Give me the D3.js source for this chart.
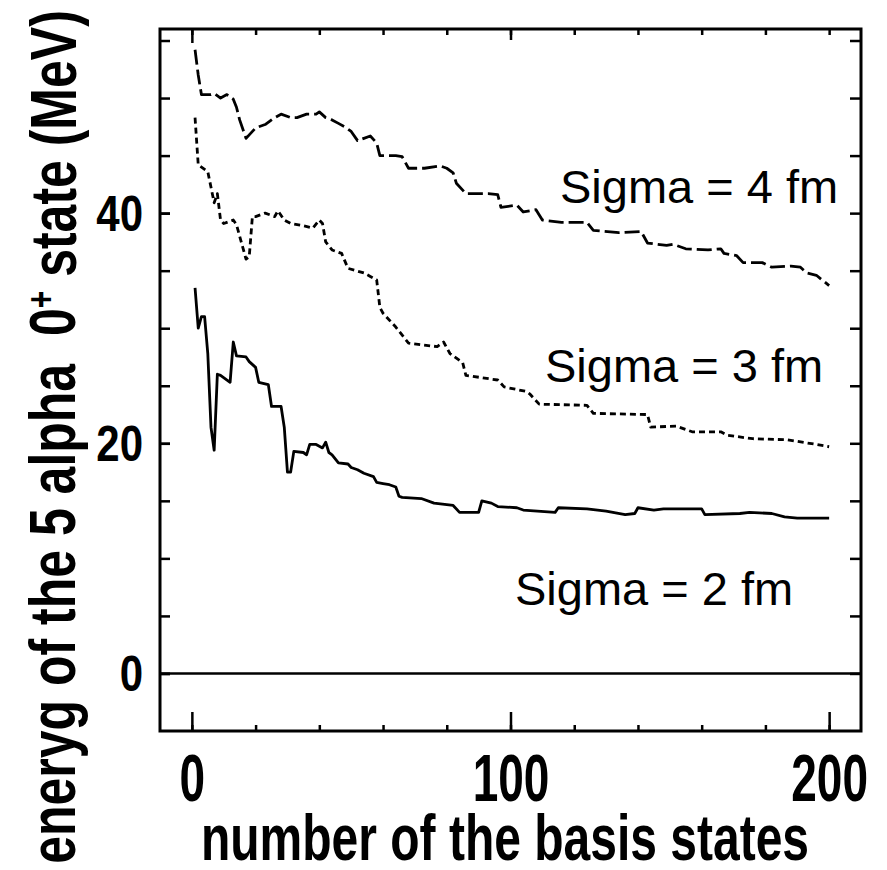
<!DOCTYPE html>
<html>
<head>
<meta charset="UTF-8">
<style>
  body { margin: 0; background: #fff; }
  svg { display: block; font-family: "Liberation Sans", Arial, sans-serif; }
</style>
</head>
<body>
<svg></svg>
<script src="https://d3js.org/d3.v7.min.js"></script>
<script>
let width = 887, height = 870;

// sigma = 2 fm (solid)
var n2 = [1,2,3,4,5,6,7,8,9,12,13,14,17,18,20,21,24,25,28,29,30,31,32,35,36,37,39,41,42,43,
          44,46,49,50,52,54,57,58,60,62,64,65,66,72,76,82,84,90,91,94,96,102,104,114,115,124,130,136,139,140,
          145,148,160,161,172,175,182,186,190,200];
var e2 = [33.5,30,31,31,27.8,21.4,19.4,26,25.9,25.3,28.8,27.6,27.5,27.1,26.6,25.3,25.1,23.2,23.2,21.4,
          17.5,17.5,19.3,19.2,19.0,19.9,19.9,19.6,20.1,19.2,19.0,18.3,18.2,17.9,17.7,17.4,17.1,16.6,16.5,16.4,
          16.2,15.4,15.3,15.2,14.8,14.6,14.0,14.0,15.0,14.8,14.5,14.4,14.2,14.0,14.4,14.3,14.1,13.8,13.9,14.4,
          14.2,14.3,14.3,13.8,13.9,14.0,13.9,13.6,13.5,13.5];

// sigma = 3 fm (dotted)
var n3 = [1,2,5,7,8,9,10,13,14,16,17,18,19,20,23,26,27,29,31,35,38,40,41,42,44,47,49,54,56,58,
          59,60,64,68,77,79,81,85,86,96,98,105,106,109,124,126,143,144,152,157,166,168,176,187,196,200];
var e3 = [48.3,44.2,43.6,40.9,41.7,39.4,39.1,39.4,39,37,36,36.2,39.7,39.7,40,39.7,40.2,39.4,39.1,38.9,
          38.7,39.4,39.1,37.5,36.8,36.5,35.2,34.8,34.5,34.2,31.8,31.3,30.1,28.7,28.4,28.8,27.8,27.0,25.9,25.5,
          24.9,24.5,24.3,23.4,23.3,22.6,22.5,21.4,21.5,21.0,21.0,20.7,20.4,20.3,19.9,19.7];

// sigma = 4 fm (dashed)
var n4 = [1,2,3,6,7,9,11,13,14,15,17,18,20,23,26,28,31,33,36,39,40,42,44,46,48,50,52,54,56,58,
          59,64,66,68,73,78,80,82,83,86,93,96,97,102,104,108,110,116,124,126,134,141,143,149,151,155,162,166,167,171,
          173,179,182,188,191,193,196,200];
var e4 = [54.2,52,50.3,50.3,50.4,50,50.3,49.9,49.2,48.1,46.5,46.8,47.4,47.7,48.3,48.6,48.3,48.3,48.6,48.6,
          48.8,48.3,48.1,47.8,47.5,47.1,46.3,46.5,46.7,46.1,45.0,45.0,44.9,43.9,43.9,44.1,43.9,43.5,42.6,41.7,
          41.7,41.6,40.5,40.7,40.1,40.3,39.4,39.2,39.2,38.5,38.3,38.4,37.4,37.2,37.3,36.9,36.8,36.9,36.5,36.3,
          35.7,35.7,35.3,35.4,35.3,34.8,34.6,33.7];

var labels = ["Sigma = 2 fm", "Sigma = 3 fm", "Sigma = 4 fm"];
var xTicksMajor = [0, 100, 200];
var yTicksMajor = [0, 20, 40];

let svg = d3.select("svg")
    .attr("width", width)
    .attr("height", height);

let pLeft = 160, pRight = 861, pTop = 29, pBottom = 731;

var x = d3.scaleLinear().domain([-10, 210]).range([pLeft, pRight]);
var y = d3.scaleLinear().domain([-5, 56]).range([pBottom, pTop]);

// minor ticks, all four sides
svg.append("g").attr("transform", "translate(0," + pBottom + ")")
    .call(d3.axisBottom(x).tickValues(d3.range(0, 201, 20)).tickSize(-6).tickFormat(""));
svg.append("g").attr("transform", "translate(0," + pTop + ")")
    .call(d3.axisTop(x).tickValues(d3.range(0, 201, 20)).tickSize(-6).tickFormat(""));
svg.append("g").attr("transform", "translate(" + pLeft + ",0)")
    .call(d3.axisLeft(y).tickValues(d3.range(0, 56, 5)).tickSize(-10).tickFormat(""));
svg.append("g").attr("transform", "translate(" + pRight + ",0)")
    .call(d3.axisRight(y).tickValues(d3.range(0, 56, 5)).tickSize(-11).tickFormat(""));

// major ticks with labels
var xAx = svg.append("g").attr("transform", "translate(0," + pBottom + ")")
    .call(d3.axisBottom(x).tickValues(xTicksMajor).tickSize(-19));
xAx.selectAll("text")
    .attr("y", null).attr("dy", null)
    .attr("transform", "translate(0,70) scale(1,1.45)")
    .attr("fill", "#000")
    .style("font-size", "46px").style("font-weight", "bold");

svg.append("g").attr("transform", "translate(0," + pTop + ")")
    .call(d3.axisTop(x).tickValues([0]).tickSize(-14).tickFormat(""));
svg.append("g").attr("transform", "translate(0," + pTop + ")")
    .call(d3.axisTop(x).tickValues([100]).tickSize(-11).tickFormat(""));

var yAx = svg.append("g").attr("transform", "translate(" + pLeft + ",0)")
    .call(d3.axisLeft(y).tickValues(yTicksMajor).tickSize(-10));
yAx.selectAll("text")
    .attr("x", null).attr("dy", null)
    .attr("text-anchor", "end")
    .attr("transform", "translate(-17,17.5) scale(1,1.17)")
    .attr("fill", "#000")
    .style("font-size", "42px").style("font-weight", "bold");

svg.selectAll(".domain").remove();
svg.selectAll(".tick line").attr("stroke", "#000").attr("stroke-width", 2.5);

// frame
svg.append("rect")
    .attr("x", pLeft).attr("y", pTop)
    .attr("width", pRight - pLeft).attr("height", pBottom - pTop)
    .attr("fill", "none").attr("stroke", "#000").attr("stroke-width", 3);

// zero line
svg.append("line")
    .attr("x1", pLeft).attr("x2", pRight)
    .attr("y1", y(0)).attr("y2", y(0))
    .attr("stroke", "#000").attr("stroke-width", 2.5);

var line = d3.line().x(d => x(d[0])).y(d => y(d[1]));

var series = [
  {n: n2, e: e2, dash: null},
  {n: n3, e: e3, dash: "6,4"},
  {n: n4, e: e4, dash: "15,5"}
];

series.forEach(s => {
  svg.append("path")
    .datum(s.n.map((v, i) => [v, s.e[i]]))
    .attr("d", line)
    .attr("fill", "none")
    .attr("stroke", "#000")
    .attr("stroke-width", 2.8)
    .attr("stroke-linejoin", "round")
    .attr("stroke-dasharray", s.dash);
});

// curve labels
var labelPos = [[515, 605], [545, 382], [560, 203]];
svg.selectAll(".lab")
    .data(labels)
    .enter()
    .append("text")
    .attr("class", "lab")
    .attr("x", (d, i) => labelPos[i][0])
    .attr("y", (d, i) => labelPos[i][1])
    .style("font-size", "47px")
    .text(d => d);

// axis titles
svg.append("text")
    .attr("transform", "translate(505,860) scale(1,1.36)")
    .attr("text-anchor", "middle")
    .style("font-size", "48px").style("font-weight", "bold")
    .text("number of the basis states");

var yt = svg.append("text")
    .attr("transform", "translate(75,437) rotate(-90) scale(1,1.3)")
    .attr("text-anchor", "middle")
    .style("white-space", "pre")
    .style("font-size", "50px").style("font-weight", "bold");
yt.append("tspan").text("eneryg of the 5 alpha  0");
yt.append("tspan").attr("dy", "-0.55em").style("font-size", "30px").text("+");
yt.append("tspan").attr("dy", "0.35em").text(" state (MeV)");
</script>
</body>
</html>
